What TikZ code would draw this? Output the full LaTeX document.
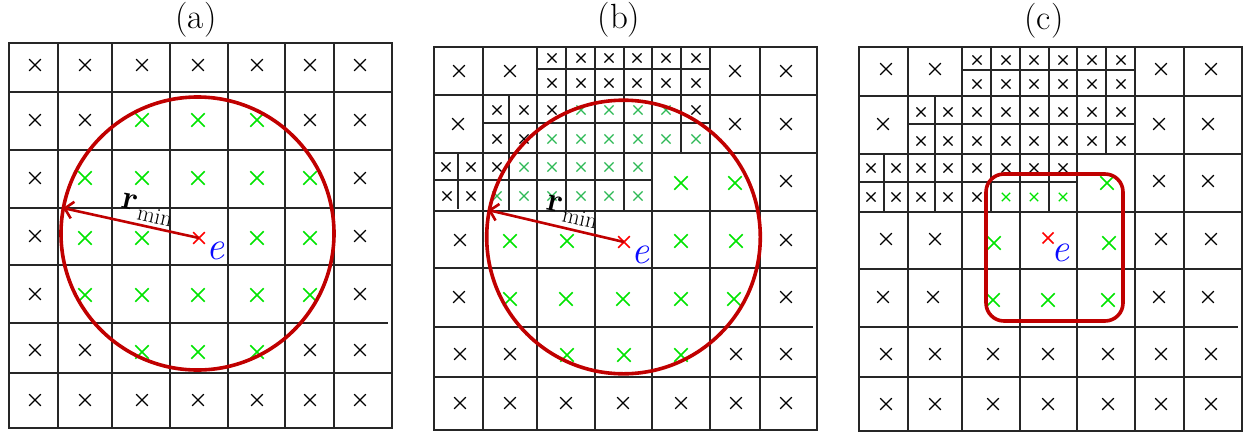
\documentclass[tikz,border=0pt]{standalone}
\usepackage{fontspec}
\usetikzlibrary{arrows.meta}
\definecolor{cred}{RGB}{192,0,0}
\definecolor{bgreen}{RGB}{0,228,0}
\definecolor{sgreen}{RGB}{45,185,85}
\definecolor{ebl}{RGB}{10,10,255}
\newcommand\crosses[3]{\foreach \px/\py in {#3} {\draw[#1] (\px-#2,\py-#2) -- (\px+#2,\py+#2) (\px-#2,\py+#2) -- (\px+#2,\py-#2);}}
\newcommand\rminlabel{\fontsize{34}{34}\selectfont\bfseries r\kern2.5pt\raisebox{-8pt}{\fontsize{23}{23}\selectfont\mdseries min}}
\tikzset{
  grid/.style={line width=1.2pt,black!85},
  frame/.style={line width=2pt,black!85},
  bx/.style={line width=1.3pt,black},
  sx/.style={line width=1.1pt,black},
  gx/.style={line width=1.7pt,bgreen},
  gsx/.style={line width=1.2pt,sgreen},
  gcx/.style={line width=1.2pt,bgreen},
  rx/.style={line width=1.6pt,red},
  ring/.style={line width=3.6pt,cred},
  radius arrow/.style={line width=2.6pt,cred,-{Straight Barb[length=8pt,width=17pt]}},
  ttl/.style={font=\fontsize{35}{36}\selectfont},
  elab/.style={text=ebl,font=\fontsize{40}{40}\selectfont\itshape},
  rlab/.style={rotate=-12.6,inner sep=0pt}
}
\begin{document}
\begin{tikzpicture}[x=1pt,y=-1pt]
\useasboundingbox (0,0) rectangle (1244,432);
% ---------------- titles
\node[ttl] (ta) at (196,20) {(a)};
\node[ttl] (tb) at (619,20) {(b)};
\node[ttl] (tc) at (1044,21) {(c)};
% ---------------- panel (a)
\foreach \x in {58,112,170,228,285,334} \draw[grid] (\x,43) -- (\x,428);
\foreach \y in {92,150,208,265,373} \draw[grid] (9,\y) -- (392,\y);
\draw[grid] (8,323) -- (388,323);
\draw[frame] (9,43) rectangle (392,428);
\crosses{bx}{5.8}{35/65,85/65,142/65,198/65,257/65,310/65,360/65,
 35/120,85/120,310/120,360/120, 35/178,360/178, 35/236,360/236, 35/294,360/294,
 35/350,85/350,310/350,360/350,
 35/400,85/400,142/400,198/400,257/400,310/400,360/400}
\crosses{gx}{6.7}{142/120,198/120,257/120, 85/178,142/178,198/178,257/178,310/178,
 85/238,142/238,257/238,310/238, 85/295,142/295,198/295,257/295,310/295,
 142/352,198/352,257/352}
\crosses{rx}{5.8}{199/238}
\node[draw=none,minimum size=0pt,inner sep=0pt] (ca) at (197.5,233.5) {};
\draw[ring] (ca) circle[radius=136.5];
\coordinate (ea) at (199,238);
\coordinate (ra) at (63,208);
\draw[radius arrow] (ea) -- (ra);
\node[rlab] (rma) at (147,210) {\rminlabel};
\node[elab] (la) at (215,251) {e};
% ---------------- panel (b)
\foreach \x in {483,537,595,652,710,760} \draw[grid] (\x,47) -- (\x,430);
\foreach \x in {566,624} \draw[grid] (\x,47) -- (\x,211);
\draw[grid] (681,47) -- (681,153);
\draw[grid] (509,95) -- (509,211);
\draw[grid] (458,153) -- (458,209);
\foreach \y in {95,153,211,268,377} \draw[grid] (434,\y) -- (817,\y);
\draw[grid] (433,327) -- (813,327);
\draw[grid] (537,69) -- (710,69);
\draw[grid] (483,123) -- (710,123);
\draw[grid] (434,180) -- (652,180);
\draw[frame] (434,47) rectangle (817,430);
\crosses{bx}{5.8}{459/71,510/71,735/71,786/71, 458/124,735/124,786/124, 786/181,
 460/240,786/240, 459/297,786/297, 460/354,510/354,736/354,786/354,
 460/403,510/403,566/403,623/403,681/403,736/403,786/403}
\crosses{sx}{4.6}{552/58,581/58,609/58,637/58,666/58,696/58,
 552/83,581/83,609/83,637/83,666/83,696/83,
 497/110,524/110,552/110,696/110, 497/139,524/139,
 446/167,471/167,497/167, 447/196,471/196}
\crosses{gsx}{4.6}{581/110,609/110,638/110,666/110,
 552/139,581/139,609/139,638/139,666/139,696/139,
 524/167,552/167,581/167,609/167,638/167,
 497/196,524/196,552/196,581/196,609/196,638/196}
\crosses{gx}{6.7}{681/183,735/183, 510/241,567/241,681/241,736/241,
 510/299,566/299,623/299,681/299,734/299, 567/355,624/355,681/355}
\crosses{rx}{5.8}{624/242}
\node[draw=none,minimum size=0pt,inner sep=0pt] (cb) at (623.5,237) {};
\draw[ring] (cb) circle[radius=136.8];
\coordinate (eb) at (624,242);
\coordinate (rb) at (488,210);
\draw[radius arrow] (eb) -- (rb);
\node[rlab] (rmb) at (572,212) {\rminlabel};
\node[elab] (lb) at (640,255) {e};
% ---------------- panel (c)
\foreach \x in {908,962,1020,1077,1135,1184} \draw[grid] (\x,47) -- (\x,431);
\foreach \x in {991,1049} \draw[grid] (\x,47) -- (\x,212);
\draw[grid] (1106,47) -- (1106,154);
\draw[grid] (935,96) -- (935,212);
\draw[grid] (884,154) -- (884,212);
\foreach \y in {96,154,212,269,377} \draw[grid] (859,\y) -- (1242,\y);
\draw[grid] (859,327) -- (1238,327);
\draw[grid] (962,70) -- (1135,70);
\draw[grid] (908,124) -- (1135,124);
\draw[grid] (859,182) -- (1077,182);
\draw[frame] (859,47) rectangle (1242,431);
\crosses{bx}{5.8}{886/69,935/69,1161/69,1211/69, 883/124,1159/124,1208/124,
 1159/181,1208/181, 886/239,935/239,1161/239,1211/239,
 883/297,933/297,1159/297,1208/297,
 886/354,935/354,993/354,1048/354,1108/354,1161/354,1211/354,
 886/404,935/404,993/404,1048/404,1108/404,1161/404,1211/404}
\crosses{sx}{4.6}{977/60,1006/60,1034/60,1063/60,1092/60,1121/60,
 977/84,1006/84,1034/84,1063/84,1092/84,1121/84,
 921/112,948/112,977/112,1006/112,1034/112,1063/112,1092/112,1121/112,
 921/141,948/141,977/141,1006/141,1034/141,1063/141,1092/141,1121/141,
 871/168,896/168,921/168,948/168,977/168,1006/168,1034/168,1063/168,
 871/197,896/197,921/197,948/197,977/197}
\crosses{gcx}{4.2}{1006/197,1034/197,1063/197}
\crosses{gx}{6.7}{1107/183, 994/243,1109/243, 993/300,1048/300,1108/300}
\crosses{rx}{5.5}{1048/238}
\node[draw=cred,line width=3.6pt,rounded corners=18pt,minimum width=137pt,minimum height=147pt,inner sep=0pt] (box) at (1054.5,247.5) {};
\node[elab] (lc) at (1060,253) {e};
\end{tikzpicture}
\end{document}
